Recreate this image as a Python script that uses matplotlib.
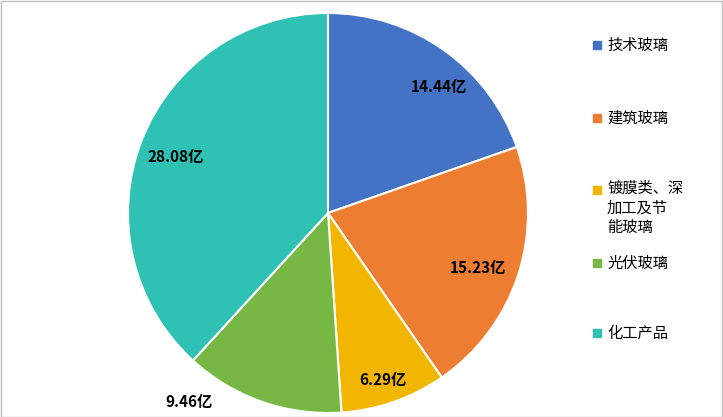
import numpy as np
import matplotlib.pyplot as plt
from matplotlib.patches import Rectangle

plt.rcParams['font.family'] = ['Noto Sans CJK SC', 'DejaVu Sans']

categories = ["技术玻璃", "建筑玻璃", "镀膜类、深\n加工及节\n能玻璃", "光伏玻璃", "化工产品"]
values = [14.44, 15.23, 6.29, 9.46, 28.08]
labels = ["14.44亿", "15.23亿", "6.29亿", "9.46亿", "28.08亿"]
colors = ["#4472C4", "#ED7D31", "#F2B600", "#76B843", "#2EC1B4"]

fig = plt.figure(figsize=(7.23, 4.17), dpi=100)
fig.patches.append(Rectangle((0.001, 0.001), 0.998, 0.997, transform=fig.transFigure,
                             fill=False, edgecolor="#BFBFBF", lw=1))
ax = fig.add_axes([128 / 723, 4 / 417, 400 / 723, 400 / 417])
wedges, _ = ax.pie(values, colors=colors, startangle=90, counterclock=False,
                   wedgeprops=dict(edgecolor="white", linewidth=1.5))
ax.set_xlim(-1, 1)
ax.set_ylim(-1, 1)
ax.set_aspect("equal")

# label radius and angle shift per slice
lab_r = [0.84, 0.80, 0.88, 1.17, 0.81]
lab_da = [-6, -2, -1, -17, 1]
total = sum(values)
cum = 0
for i, v in enumerate(values):
    mid = 90 - (cum + v / 2) / total * 360 + lab_da[i]
    cum += v
    a = np.deg2rad(mid)
    ax.text(lab_r[i] * np.cos(a), lab_r[i] * np.sin(a), labels[i],
            ha="center", va="center", fontsize=11, fontweight="bold", clip_on=False)

leg_y = [45, 118, 190, 263, 333]
for i, cat in enumerate(categories):
    y = 1 - leg_y[i] / 417
    fig.patches.append(Rectangle((593 / 723, y - 4 / 417), 8 / 723, 8 / 417,
                                 transform=fig.transFigure, color=colors[i]))
    if "\n" in cat:
        fig.text(607 / 723, y + 10 / 417, cat, ha="left", va="top", fontsize=11,
                 linespacing=1.2)
    else:
        fig.text(607 / 723, y, cat, ha="left", va="center", fontsize=11)

fig.savefig("out.png", dpi=100)
